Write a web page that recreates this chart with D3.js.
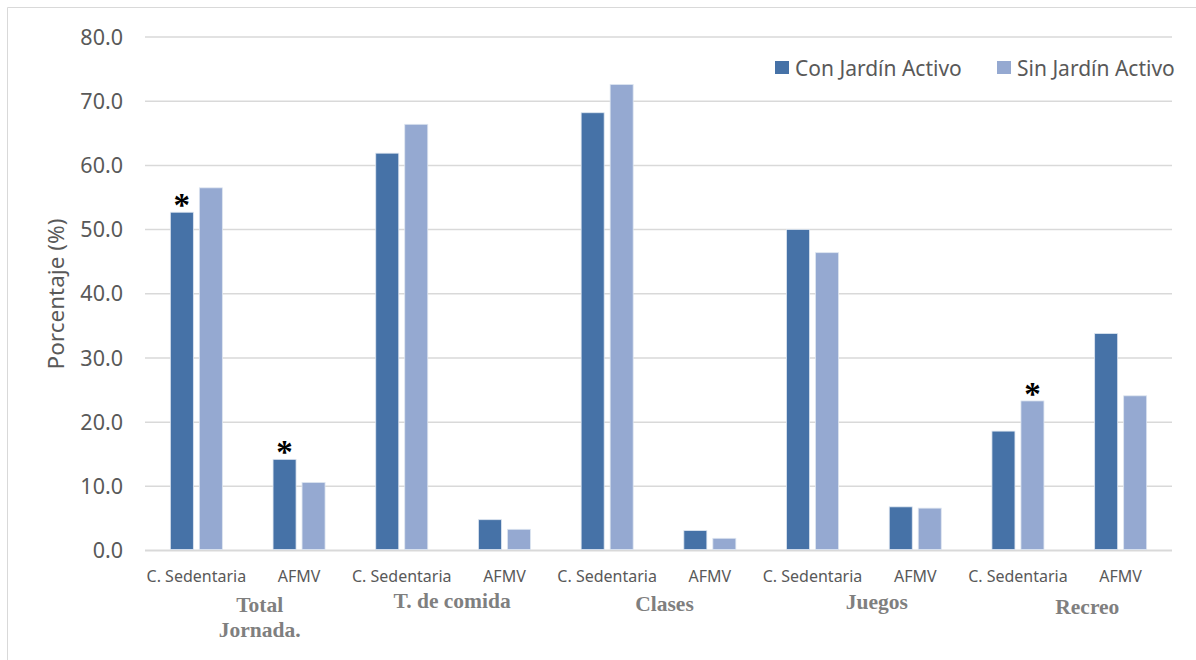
<!DOCTYPE html>
<html><head><meta charset="utf-8">
<script src="https://cdn.jsdelivr.net/npm/d3@7"></script>
<style>body{margin:0;background:#fff}svg{display:block}</style>
</head><body><svg id="c" width="1196" height="660"></svg>
<script>
const categories = ["C. Sedentaria","AFMV","C. Sedentaria","AFMV","C. Sedentaria","AFMV","C. Sedentaria","AFMV","C. Sedentaria","AFMV"];
const groups = ["Total|Jornada.","T. de comida","Clases","Juegos","Recreo"];
const seriesNames = ["Con Jardín Activo","Sin Jardín Activo"];
const conValues = [52.7,14.2,61.9,4.8,68.2,3.1,50.0,6.8,18.6,33.8];
const sinValues = [56.5,10.6,66.4,3.3,72.6,1.9,46.4,6.6,23.3,24.1];
const yTicks = [0,10,20,30,40,50,60,70,80];
// asterisks: [category index, series index]
const stars = [[0,0],[1,0],[8,1]];

const colors = ["#4672A7","#95A9D1"];
const svg = d3.select("#c");
const m = {l:145, r:1172, t:37, b:550.5};
const x = d3.scaleBand().domain(d3.range(categories.length)).range([m.l,m.r]).paddingInner(0).paddingOuter(0);
const y = d3.scaleLinear().domain([0,80]).range([m.b,m.t]);
const fs = "'Noto Sans', 'Open Sans', sans-serif";

// frame
svg.append("line").attr("x1",7.5).attr("x2",7.5).attr("y1",7.5).attr("y2",660).attr("stroke","#d9d9d9");
svg.append("line").attr("x1",7.5).attr("x2",1196).attr("y1",7.5).attr("y2",7.5).attr("stroke","#d9d9d9");

// gridlines
svg.append("g").selectAll("line").data(yTicks).join("line")
  .attr("x1",m.l).attr("x2",m.r).attr("y1",d=>y(d)).attr("y2",d=>y(d))
  .attr("stroke","#d9d9d9").attr("stroke-width",d=>d===0?2:1.5);

// y tick labels
svg.append("g").selectAll("text").data(yTicks).join("text")
  .attr("x",123).attr("y",d=>y(d)).attr("dy","0.36em").attr("text-anchor","end")
  .attr("font-family",fs).attr("font-size",21.5).attr("fill","#595959")
  .text(d=>d3.format(".1f")(d));

// y title
svg.append("text").attr("transform","translate(64,294) rotate(-90)").attr("text-anchor","middle")
  .attr("font-family",fs).attr("font-size",22.5).attr("fill","#595959").text("Porcentaje (%)");

// bars
const bw = 23, gap = 6;
const series = [conValues, sinValues];
series.forEach((vals,si)=>{
  svg.append("g").selectAll("rect").data(vals).join("rect")
    .attr("x",(d,i)=>x(i)+x.bandwidth()/2 - (bw+gap/2) + si*(bw+gap))
    .attr("y",d=>y(d)).attr("width",bw).attr("height",d=>y(0)-y(d)-1)
    .attr("fill",colors[si]).attr("stroke","#dde5f0").attr("stroke-width",0.8);
});

// asterisks
svg.append("g").selectAll("text").data(stars).join("text")
  .attr("x",d=>x(d[0])+x.bandwidth()/2 - (bw+gap/2) + d[1]*(bw+gap) + bw/2)
  .attr("y",d=>y(series[d[1]][d[0]]) + 4)
  .attr("text-anchor","middle").attr("font-family","'Liberation Serif', serif")
  .attr("font-size",33).attr("font-weight","bold").attr("fill","#000").text("*");

// x category labels
svg.append("g").selectAll("text").data(categories).join("text")
  .attr("x",(d,i)=>x(i)+x.bandwidth()/2).attr("y",582).attr("text-anchor","middle")
  .attr("font-family",fs).attr("font-size",16).attr("fill","#595959").text(d=>d);

// group labels
groups.forEach((g,i)=>{
  const lines = g.split("|");
  const cx = (x(2*i)+x(2*i+1)+x.bandwidth())/2 + [12,-1,6,13,18][i];
  const t = svg.append("text").attr("x",cx).attr("y",[612,608,611,609,614][i]).attr("text-anchor","middle")
    .attr("font-family","'Liberation Serif', serif").attr("font-weight","bold").attr("font-size",21.5).attr("fill","#7f7f7f");
  lines.forEach((l,j)=>t.append("tspan").attr("x",cx).attr("dy",j?25:0).text(l));
});

// legend
const leg = [[775,795],[997,1017]];
seriesNames.forEach((n,i)=>{
  svg.append("rect").attr("x",leg[i][0]).attr("y",61).attr("width",14).attr("height",13).attr("fill",colors[i]);
  svg.append("text").attr("x",leg[i][1]).attr("y",68).attr("dy","0.36em").attr("font-family",fs)
    .attr("font-size",21).attr("fill","#595959").text(n);
});
</script></body></html>
